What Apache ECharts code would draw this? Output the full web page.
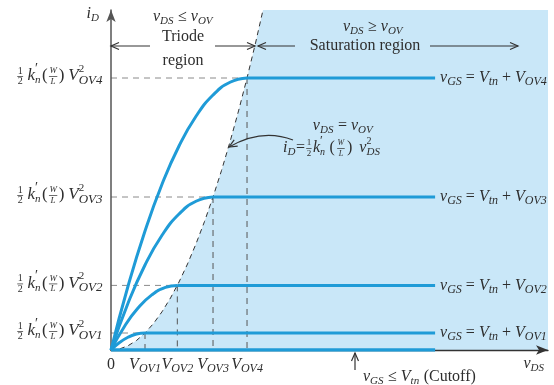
<!DOCTYPE html>
<html><head><meta charset="utf-8">
<script src="https://cdn.jsdelivr.net/npm/echarts@6/dist/echarts.min.js"></script>
<style>html,body{margin:0;padding:0;background:#fff}#c{width:554px;height:385px}</style>
</head><body><div id="c"></div>
<script>
// ---- data ----
const ovNames = ['OV1', 'OV2', 'OV3', 'OV4'];
const vOV = [1, 1.95, 3, 4];            // knee voltages
const iLevel = [1, 3.8, 9, 16];         // saturation currents
const satEnd = 9.53;                    // where the drawn saturation lines stop
const xMax = 12.85, yMax = 20;
const triode1 = [[0,0],[0.25,0.44],[0.5,0.75],[0.75,0.94],[1,1]];
const triode2 = [[0,0],[0.4,1.4],[0.8,2.48],[1.2,3.24],[1.6,3.68],[1.95,3.8]];
const triode3 = [[0,0],[0.5,2.75],[1,5],[1.5,6.75],[2,8],[2.5,8.75],[3,9]];
const triode4 = [[0,0],[0.5,3.75],[1,7],[1.5,9.75],[2,12],[2.5,13.75],[3,15],[3.5,15.75],[4,16]];
const triodes = [triode1, triode2, triode3, triode4];
const boundary = [[0,0],[0.25,0.06],[0.5,0.25],[0.75,0.56],[1,1],[1.25,1.56],[1.5,2.25],[1.75,3.06],[2,4],[2.25,5.06],[2.5,6.25],[2.75,7.56],[3,9],[3.25,10.56],[3.5,12.25],[3.75,14.06],[4,16],[4.25,18.06],[4.47,20]];

// ---- style ----
const BLUE = '#1f9bd7', SHADE = '#c9e7f8', TXT = '#2e2e2e';
const SERIF = '"Liberation Serif","Times New Roman",serif';

const chart = echarts.init(document.getElementById('c'), null, {renderer: 'canvas'});

const series = [];
series.push({type:'line', data: boundary.concat([[xMax, yMax]]), symbol:'none', silent:true,
  lineStyle:{width:0}, areaStyle:{color:SHADE, opacity:1}, z:1});
series.push({type:'line', data: boundary, symbol:'none', silent:true,
  lineStyle:{color:'#333', width:1, type:[5,4]}, z:2});
vOV.forEach((v, i) => {
  series.push({type:'line', data:[[0, iLevel[i]],[v, iLevel[i]]], symbol:'none', silent:true,
    lineStyle:{color:'#8a8a8a', width:1, type:[6,5]}, z:2});
  series.push({type:'line', data:[[v, iLevel[i]],[v, 0]], symbol:'none', silent:true,
    lineStyle:{color:'#555', width:1, type:[6,5]}, z:2});
});
const subRich = {
  v:{fontFamily:SERIF, fontSize:16, fontStyle:'italic', color:TXT, lineHeight:20},
  n:{fontFamily:SERIF, fontSize:16, color:TXT, lineHeight:20},
  s:{fontFamily:SERIF, fontSize:12, fontStyle:'italic', color:TXT, lineHeight:12, verticalAlign:'bottom'}
};
triodes.forEach((t, i) => {
  series.push({type:'line', data:t, smooth:true, symbol:'none', silent:true,
    lineStyle:{color:BLUE, width:3}, z:5});
  series.push({type:'line', data:[[vOV[i], iLevel[i]],[satEnd, iLevel[i]]], symbol:'none', silent:true,
    lineStyle:{color:BLUE, width:3}, z:5,
    endLabel:{show:true, distance:5, formatter:'{v|v}{s|GS}{n| = }{v|V}{s|tn}{n| + }{v|V}{s|' + ovNames[i] + '}', rich:subRich}});
});
series.push({type:'line', data:[[0,0],[satEnd,0]], symbol:'none', silent:true,
  lineStyle:{color:BLUE, width:3.5}, z:6});

chart.setOption({
  animation:false,
  grid:{left:111, top:10, width:437, height:340},
  xAxis:{type:'value', min:0, max:xMax, z:4, splitLine:{show:false}, axisTick:{show:false},
    axisLine:{lineStyle:{color:'#333', width:1.3}, symbol:['none','arrow'], symbolSize:[7,12]},
    axisLabel:{customValues:[0].concat(vOV), margin:5,
      formatter: function (val) {
        if (val === 0) return '{n|0}';
        const k = vOV.indexOf(val);
        return '{v|V}{s|' + ovNames[k] + '}';
      }, rich:subRich}},
  yAxis:{type:'value', min:0, max:yMax, z:4, splitLine:{show:false}, axisTick:{show:false}, axisLabel:{show:false},
    axisLine:{lineStyle:{color:'#555', width:1.5}, symbol:['none','arrow'], symbolSize:[7,12]}},
  series: series
});

// ---- annotation text layout ----
const cv = document.createElement('canvas').getContext('2d');
function tw(t, s, it) { cv.font = (it ? 'italic ' : '') + s + 'px ' + SERIF; return cv.measureText(t).width; }
function T(t, x, y, s, it, align) {
  return {type:'text', x:x, y:y, silent:true, z:100, style:{text:t, fontFamily:SERIF, fontSize:s,
    fontStyle: it ? 'italic' : 'normal', fill:TXT, textAlign:align || 'left', textVerticalAlign:'middle',
    align:align || 'left', verticalAlign:'middle'}};
}
function formula(parts, x, y, anchor) {
  const items = parts.map(p => {
    if (p.frac) { const s = p.s || 9; return {p, w: Math.max(tw(p.frac[0], s, p.it), tw(p.frac[1], s, p.it)) + 1.5}; }
    if (p.ss) { return {p, w: Math.max(p.ss[0] ? tw(p.ss[0], p.s1 || 10, false) : 0, p.ss[1] ? tw(p.ss[1], p.s2 || 12, true) : 0) + 0.5}; }
    if (p.gap) return {p, w:p.gap};
    return {p, w: tw(p.t, p.s || 16, p.it)};
  });
  const total = items.reduce((a, b) => a + b.w, 0);
  let cx = anchor === 'right' ? x - total : anchor === 'center' ? x - total / 2 : x;
  const out = [];
  items.forEach(({p, w}) => {
    if (p.frac) {
      const s = p.s || 9;
      out.push(T(p.frac[0], cx + w / 2, y - 5, s, p.it, 'center'));
      out.push(T(p.frac[1], cx + w / 2, y + 5.5, s, p.it, 'center'));
      out.push({type:'line', silent:true, z:100, shape:{x1:cx + 0.3, y1:y + 0.5, x2:cx + w - 0.3, y2:y + 0.5}, style:{stroke:TXT, lineWidth:0.7}});
    } else if (p.ss) {
      if (p.ss[0]) out.push(T(p.ss[0], cx, y - 7, p.s1 || 10, false));
      if (p.ss[1]) out.push(T(p.ss[1], cx, y + 4.5, p.s2 || 12, true));
    } else if (!p.gap) {
      out.push(T(p.t, cx, y + (p.dy || 0), p.s || 16, p.it));
    }
    cx += w;
  });
  return out;
}
function arrowHead(tx, ty, dx, dy) {
  const L = Math.hypot(dx, dy), ux = dx / L, uy = dy / L, len = 8, half = 3.5;
  return {type:'polyline', silent:true, z:100, shape:{points:[
    [tx - ux * len - uy * half, ty - uy * len + ux * half], [tx, ty],
    [tx - ux * len + uy * half, ty - uy * len - ux * half]]}, style:{stroke:'#333', lineWidth:1.2, fill:null}};
}
function seg(x1, y1, x2, y2) {
  return {type:'line', silent:true, z:100, shape:{x1, y1, x2, y2}, style:{stroke:'#333', lineWidth:1.2}};
}

const g = [];
iLevel.forEach((lv, i) => {
  const py = chart.convertToPixel({yAxisIndex:0}, lv);
  const yk = [{t:'k', it:1, s:17}, {ss:['\u2032', 'n'], s1:14, s2:11}, {gap:1}];
  const ywl = [{t:'(', s:17}, {gap:1}, {frac:['W', 'L'], it:1, s:9}, {gap:1}, {t:')', s:17}];
  g.push(...formula([{frac:['1', '2'], s:10}, {gap:4}].concat(yk, ywl, [{gap:4}, {t:'V', it:1, s:17}, {ss:['2', ovNames[i]], s1:11, s2:13}]), 103, py - 2, 'right'));
});
// axis names
g.push(...formula([{t:'i', it:1}, {ss:['', 'D'], s2:11}], 93, 14, 'center'));
g.push(...formula([{t:'v', it:1}, {ss:['', 'DS'], s2:11}], 534, 364, 'center'));
// triode header
g.push(...formula([{t:'v', it:1}, {ss:['', 'DS'], s2:11}, {t:' \u2264 '}, {t:'v', it:1}, {ss:['', 'OV'], s2:11}], 183, 17, 'center'));
g.push(T('Triode', 183, 37, 16, false, 'center'));
g.push(T('region', 183, 61, 16, false, 'center'));
g.push(seg(111, 46, 150, 46), arrowHead(111, 46, -1, 0), seg(215, 46, 255, 46), arrowHead(255, 46, 1, 0));
// saturation header
g.push(...formula([{t:'v', it:1}, {ss:['', 'DS'], s2:11}, {t:' \u2265 '}, {t:'v', it:1}, {ss:['', 'OV'], s2:11}], 373, 27, 'center'));
g.push(T('Saturation region', 365, 46, 16, false, 'center'));
g.push(seg(258, 46, 295, 46), arrowHead(258, 46, -1, 0), seg(430, 46, 518, 46), arrowHead(518, 46, 1, 0));
// boundary annotation
g.push(...formula([{t:'v', it:1}, {ss:['', 'DS'], s2:11}, {t:' = '}, {t:'v', it:1}, {ss:['', 'OV'], s2:11}], 343, 126, 'center'));
g.push(...formula([{t:'i', it:1}, {ss:['', 'D'], s2:11}, {t:'='}, {gap:1}, {frac:['1', '2']}, {gap:1}, {t:'k', it:1}, {ss:['\u2032', 'n'], s1:13, s2:10},
  {gap:4}, {t:'('}, {gap:2}, {frac:['W', 'L'], it:1, s:8}, {gap:2}, {t:')'}, {gap:7}, {t:'v', it:1}, {ss:['2', 'DS'], s1:10, s2:11}], 283, 148, 'left'));
g.push({type:'bezierCurve', silent:true, z:100, shape:{x1:293, y1:140, x2:229, y2:147, cpx1:262, cpy1:128}, style:{stroke:'#333', lineWidth:1.2, fill:null}});
g.push(arrowHead(229, 147, -33, 19));
// cutoff
g.push(seg(355, 370, 355, 353), arrowHead(355, 353, 0, -1));
g.push(...formula([{t:'v', it:1}, {ss:['', 'GS'], s2:11}, {t:' \u2264 '}, {t:'V', it:1}, {ss:['', 'tn'], s2:11}, {t:' (Cutoff)'}], 363, 377, 'left'));

chart.setOption({graphic:{elements:g}});
</script></body></html>
